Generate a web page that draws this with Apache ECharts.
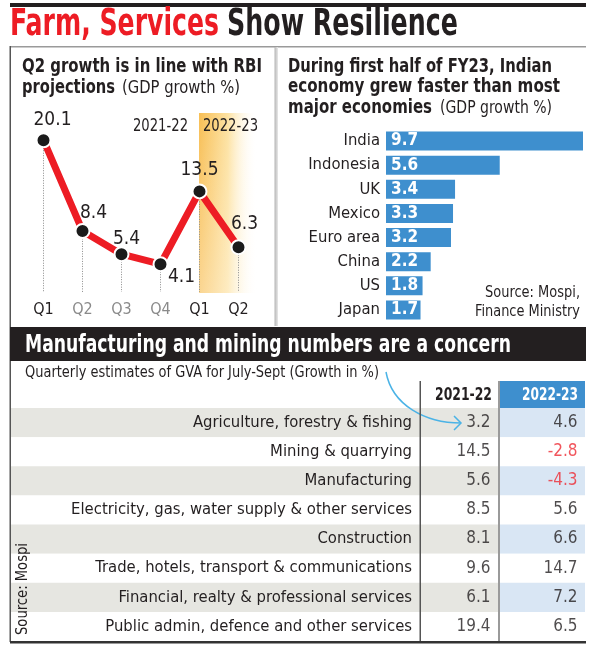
<!DOCTYPE html>
<html>
<head>
<meta charset="utf-8">
<script src="https://cdn.jsdelivr.net/npm/echarts@6/dist/echarts.min.js"></script>
<style>html,body{margin:0;padding:0;background:#fff;}#c{width:600px;height:650px;}</style>
</head>
<body>
<div id="c"></div>
<script>
// ---------- data ----------
const quarters = ['Q1', 'Q2', 'Q3', 'Q4', 'Q1', 'Q2'];
const gdpGrowth = [20.1, 8.4, 5.4, 4.1, 13.5, 6.3];
const fiscalYears = ['2021-22', '2022-23'];
const economies = ['India', 'Indonesia', 'UK', 'Mexico', 'Euro area', 'China', 'US', 'Japan'];
const economyGrowth = [9.7, 5.6, 3.4, 3.3, 3.2, 2.2, 1.8, 1.7];
const sectors = [
  'Agriculture, forestry & fishing',
  'Mining & quarrying',
  'Manufacturing',
  'Electricity, gas, water supply & other services',
  'Construction',
  'Trade, hotels, transport & communications',
  'Financial, realty & professional services',
  'Public admin, defence and other services'
];
const gva2122 = [3.2, 14.5, 5.6, 8.5, 8.1, 9.6, 6.1, 19.4];
const gva2223 = [4.6, -2.8, -4.3, 5.6, 6.6, 14.7, 7.2, 6.5];

// ---------- styling ----------
const NARROW = '"Liberation Sans Narrow", "DejaVu Sans Condensed", "Roboto Condensed", Roboto, sans-serif';
const RED = '#ed1c24';
const DARK = '#231f20';
const BLUE = '#3e8fce';
const pointLabelOffsets = [[9, -20], [11, -18], [5, -15], [21, 13], [0, -21], [6, -23]];

const mctx = document.createElement('canvas').getContext('2d');
function T(text, x, y, targetW, o) {
  o = o || {};
  const size = o.size || 16, weight = o.weight || 'normal';
  mctx.font = weight + ' ' + size + 'px ' + NARROW;
  const w = mctx.measureText(text).width;
  return {
    type: 'text', x: x, y: y, z: 100, rotation: o.rotation || 0,
    scaleX: targetW ? targetW / w : 1,
    style: {
      text: text, fontSize: size, fontWeight: weight, fontFamily: NARROW,
      fill: o.color || DARK, textAlign: o.align || 'left', textVerticalAlign: 'middle'
    }
  };
}
function R(x, y, w, h, fill, z) {
  return { type: 'rect', z: z == null ? 100 : z, shape: { x: x, y: y, width: w, height: h }, style: { fill: fill } };
}

const chart = echarts.init(document.getElementById('c'), null, { renderer: 'canvas' });

const graphics = [
  R(10, 3, 576, 4, DARK),
  T('Farm, Services', 10, 25, 209, { size: 37, weight: 'bold', color: RED }),
  T('Show Resilience', 227, 25, 231, { size: 37, weight: 'bold', color: DARK }),
  R(10, 46, 576, 1.5, '#9a9a9a'),
  R(9.5, 46, 1.5, 596, '#555'),
  { type: 'rect', z: 100, shape: { x: 274.5, y: 47, width: 3.5, height: 279 },
    style: { fill: { type: 'linear', x: 0, y: 0, x2: 1, y2: 0, colorStops: [{ offset: 0, color: '#b5b5b5' }, { offset: 1, color: '#e8e8e8' }] } } },
  // 2022-23 shading
  { type: 'rect', z: 1, shape: { x: 199, y: 113, width: 58, height: 180 },
    style: { fill: { type: 'linear', x: 0, y: 0, x2: 1, y2: 0, colorStops: [
      { offset: 0, color: '#f8bf55' }, { offset: 0.5, color: '#fde2a2' }, { offset: 1, color: 'rgba(255,255,255,0)' }] } } },
  { type: 'rect', z: 1, shape: { x: 199, y: 113, width: 58, height: 180 },
    style: { fill: { type: 'linear', x: 0, y: 0, x2: 0, y2: 1, colorStops: [
      { offset: 0, color: 'rgba(255,255,255,0)' }, { offset: 1, color: 'rgba(255,255,255,0.35)' }] } } },
  // left panel title
  T('Q2 growth is in line with RBI', 22, 67, 240, { size: 19, weight: 'bold' }),
  T('projections', 22, 88, 93, { size: 19, weight: 'bold' }),
  T('(GDP growth %)', 122, 88, 118, { size: 18 }),
  T(fiscalYears[0], 188, 126, 55, { size: 18, align: 'right' }),
  T(fiscalYears[1], 203, 126, 55, { size: 18 }),
  // right panel title
  T('During first half of FY23, Indian', 288, 67, 264, { size: 19, weight: 'bold' }),
  T('economy grew faster than most', 288, 87, 272, { size: 19, weight: 'bold' }),
  T('major economies', 288, 108, 144, { size: 19, weight: 'bold' }),
  T('(GDP growth %)', 440, 108, 112, { size: 18 }),
  T('Source: Mospi,', 580, 293, 95, { size: 15, align: 'right' }),
  T('Finance Ministry', 580, 312, 105, { size: 15, align: 'right' }),
  // banner
  R(10, 327, 576, 34, DARK),
  T('Manufacturing and mining numbers are a concern', 25, 345, 486, { size: 25, weight: 'bold', color: '#fff' }),
  T('Quarterly estimates of GVA for July-Sept (Growth in %)', 25, 373, 354, { size: 16 }),
  // arrow
  { type: 'bezierCurve', z: 100, shape: { x1: 386, y1: 372, cpx1: 392, cpy1: 405, cpx2: 425, cpy2: 423, x2: 461, y2: 423 },
    style: { stroke: '#4bb3e6', lineWidth: 1.5, fill: null } },
  { type: 'polyline', z: 100, shape: { points: [[454, 416], [461, 423], [454, 430]] },
    style: { stroke: '#4bb3e6', lineWidth: 1.5, fill: null } },
  // table header
  R(499, 381, 86, 27, BLUE),
  T(fiscalYears[0], 492, 395, 57, { size: 18, weight: 'bold', align: 'right' }),
  T(fiscalYears[1], 578, 395, 56, { size: 18, weight: 'bold', align: 'right', color: '#fff' }),
  R(419.5, 381, 1.5, 261, '#555'),
  R(498, 381, 2, 261, '#9a9a9a'),
  R(10, 641, 576, 2.5, '#333'),
  T('Source: Mospi', 23, 589, 92, { size: 15, rotation: Math.PI / 2, align: 'center' })
];

const option = {
  animation: false,
  backgroundColor: '#fff',
  textStyle: { fontFamily: NARROW },
  grid: [
    { left: 24, width: 234, top: 110, height: 186 },
    { left: 386, width: 197, top: 129, height: 193 },
    { left: 10, width: 489, top: 408, height: 233 },
    { left: 499, width: 86, top: 408, height: 233 }
  ],
  xAxis: [
    { gridIndex: 0, type: 'category', data: quarters, boundaryGap: true,
      axisLine: { show: false }, axisTick: { show: false },
      axisLabel: { interval: 0, margin: 6, fontSize: 16, fontFamily: NARROW,
        color: function (v, i) { return (i >= 1 && i <= 3) ? '#8a8a8a' : DARK; } } },
    { gridIndex: 1, type: 'value', min: 0, max: 9.7, show: false },
    { gridIndex: 2, type: 'value', min: 0, max: 1, show: false },
    { gridIndex: 3, type: 'value', min: 0, max: 1, show: false }
  ],
  yAxis: [
    { gridIndex: 0, type: 'value', min: 0, max: 24, show: false },
    { gridIndex: 1, type: 'category', data: economies, inverse: true,
      axisLine: { show: false }, axisTick: { show: false },
      axisLabel: { interval: 0, margin: 6, fontSize: 16.5, color: DARK, fontFamily: NARROW } },
    { gridIndex: 2, type: 'category', data: sectors, inverse: true, offset: -410,
      axisLine: { show: false }, axisTick: { show: false },
      axisLabel: { interval: 0, margin: 8, fontSize: 16.5, color: DARK, fontFamily: NARROW },
      splitArea: { show: true, interval: 0, areaStyle: { color: ['#e6e6e1', '#ffffff'] } } },
    { gridIndex: 3, type: 'category', data: sectors, inverse: true,
      axisLine: { show: false }, axisTick: { show: false }, axisLabel: { show: false },
      splitArea: { show: true, interval: 0, areaStyle: { color: ['#d9e6f4', '#ffffff'] } } }
  ],
  series: [
    { type: 'custom', xAxisIndex: 0, yAxisIndex: 0, z: 1,
      data: gdpGrowth.map(function (v, i) { return [i, v]; }),
      renderItem: function (params, api) {
        const p = api.coord([api.value(0), api.value(1)]);
        const b = api.coord([api.value(0), 0]);
        return { type: 'line', shape: { x1: p[0], y1: p[1], x2: b[0], y2: b[1] - 4 },
          style: { stroke: '#8a8a8a', lineWidth: 1, lineDash: [1, 1.5] } };
      } },
    { type: 'line', xAxisIndex: 0, yAxisIndex: 0, z: 3,
      data: gdpGrowth.map(function (v, i) {
        return { value: v, label: { offset: pointLabelOffsets[i] } };
      }),
      lineStyle: { color: RED, width: 7 },
      symbol: 'circle', symbolSize: 14,
      itemStyle: { color: '#1b1b1b', borderColor: '#fff', borderWidth: 2 },
      label: { show: true, position: 'inside', fontSize: 19, color: DARK, fontFamily: NARROW,
        formatter: function (p) { return p.value.toFixed(1); } } },
    { type: 'bar', xAxisIndex: 1, yAxisIndex: 1, data: economyGrowth, barWidth: 19,
      itemStyle: { color: BLUE },
      label: { show: true, position: 'insideLeft', distance: 5, color: '#fff', fontWeight: 'bold',
        fontSize: 17, fontFamily: NARROW, formatter: function (p) { return p.value.toFixed(1); } } },
    { type: 'scatter', xAxisIndex: 2, yAxisIndex: 2, symbolSize: 1,
      itemStyle: { color: 'rgba(0,0,0,0)' },
      data: gva2122.map(function (v, i) { return [1, i, v]; }),
      label: { show: true, position: 'left', distance: 8, fontSize: 17, color: DARK, fontFamily: NARROW,
        formatter: function (p) { return p.value[2].toFixed(1); } } },
    { type: 'scatter', xAxisIndex: 3, yAxisIndex: 3, symbolSize: 1,
      itemStyle: { color: 'rgba(0,0,0,0)' },
      data: gva2223.map(function (v, i) {
        return { value: [1, i, v], label: { color: v < 0 ? '#ee2b33' : DARK } };
      }),
      label: { show: true, position: 'left', distance: 7, fontSize: 17, fontFamily: NARROW,
        formatter: function (p) { return p.value[2].toFixed(1); } } }
  ],
  graphic: { elements: graphics }
};
chart.setOption(option);
</script>
</body>
</html>
